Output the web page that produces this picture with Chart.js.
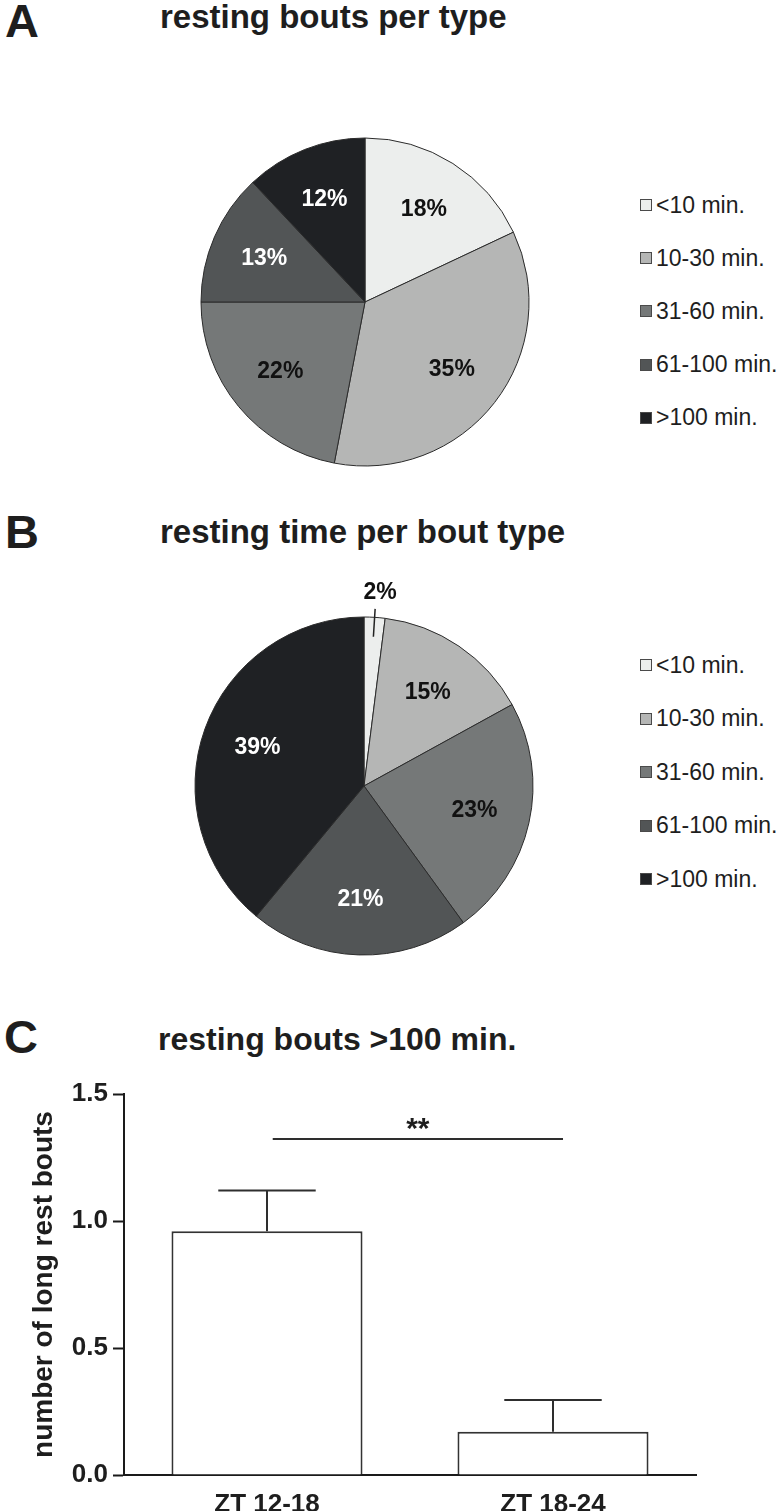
<!DOCTYPE html>
<html>
<head>
<meta charset="utf-8">
<script src="https://cdn.jsdelivr.net/npm/chart.js@4.4.1/dist/chart.umd.min.js"></script>
<style>
html,body{margin:0;padding:0;background:#fff;}
body{width:778px;height:1511px;position:relative;overflow:hidden;font-family:"Liberation Sans",Arial,Helvetica,sans-serif;color:#1e1e1e;}
.abs{position:absolute;white-space:nowrap;line-height:1;font-weight:bold;}
.letter{font-size:47px;}
.title{font-size:33px;}
canvas{position:absolute;}
.leg{position:absolute;left:640px;height:30px;display:flex;align-items:center;font-size:23px;white-space:nowrap;color:#1e1e1e;}
.leg .box{width:10px;height:10px;border:1px solid #4a4a4a;margin-right:4px;flex:none;}
</style>
</head>
<body>
<div class="abs letter" style="left:5px;top:-3px;">A</div>
<div class="abs title" style="left:160px;top:0px;">resting bouts per type</div>
<div class="abs letter" style="left:5px;top:508px;">B</div>
<div class="abs title" style="left:160px;top:515px;">resting time per bout type</div>
<div class="abs letter" style="left:4px;top:1013px;">C</div>
<div class="abs title" style="left:158px;top:1023px;font-size:32px;">resting bouts &gt;100 min.</div>

<canvas id="pieA" width="460" height="460" style="left:135px;top:72px;width:460px;height:460px;"></canvas>
<canvas id="pieB" width="460" height="460" style="left:134px;top:556px;width:460px;height:460px;"></canvas>
<canvas id="barC" width="778" height="451" style="left:0px;top:1060px;width:778px;height:451px;"></canvas>
<div id="legA"></div>
<div id="legB"></div>

<script>
// ---------- DATA ----------
const boutCategories = ['<10 min.', '10-30 min.', '31-60 min.', '61-100 min.', '>100 min.'];
const boutsPerTypePct = [18, 35, 22, 13, 12];       // panel A: resting bouts per type (%)
const timePerBoutTypePct = [2, 15, 23, 21, 39];     // panel B: resting time per bout type (%)
const periodLabels = ['ZT 12-18', 'ZT 18-24'];      // panel C categories
const longBoutMeans = [0.96, 0.17];                 // panel C bar heights
const longBoutSEM = [0.16, 0.125];                  // panel C error (upper)
const yTickValues = [0.0, 0.5, 1.0, 1.5];
const yAxisTitle = 'number of long rest bouts';
const sigLabel = '**';
const sigLevel = 1.323;
const sigSpan = [0.02, 1.035];

// ---------- STYLE ----------
const FONT = '"Liberation Sans", Arial, Helvetica, sans-serif';
const sliceColors = ['#eceeed', '#b5b6b5', '#757878', '#525556', '#1f2124'];
const sliceTextColors = ['#111', '#111', '#111', '#fff', '#fff'];

function buildLegend(id, firstCenter, spacing) {
  const el = document.getElementById(id);
  boutCategories.forEach((lab, i) => {
    const row = document.createElement('div');
    row.className = 'leg';
    row.style.top = (firstCenter + i * spacing - 15) + 'px';
    const box = document.createElement('span');
    box.className = 'box';
    box.style.background = sliceColors[i];
    const txt = document.createElement('span');
    txt.textContent = lab;
    row.appendChild(box); row.appendChild(txt);
    el.appendChild(row);
  });
}
buildLegend('legA', 205, 53.2);
buildLegend('legB', 665, 53.5);

const pieLabelPlugin = {
  id: 'pieLabels',
  afterDatasetsDraw(chart) {
    const ctx = chart.ctx;
    const meta = chart.getDatasetMeta(0);
    const data = chart.data.datasets[0].data;
    const total = data.reduce((a, b) => a + b, 0);
    ctx.save();
    ctx.font = 'bold 23px ' + FONT;
    ctx.textAlign = 'center';
    ctx.textBaseline = 'middle';
    meta.data.forEach((arc, i) => {
      const p = arc.getProps(['x', 'y', 'startAngle', 'endAngle', 'outerRadius'], true);
      const mid = (p.startAngle + p.endAngle) / 2;
      const pct = data[i] / total * 100;
      const text = Math.round(pct) + '%';
      const cx = Math.cos(mid), cy = Math.sin(mid);
      if (pct < 5) {
        const r1 = p.outerRadius * 0.885, r2 = p.outerRadius * 1.05, r3 = p.outerRadius * 1.145;
        ctx.strokeStyle = '#222';
        ctx.lineWidth = 1.5;
        ctx.beginPath();
        ctx.moveTo(p.x + cx * r1, p.y + cy * r1);
        ctx.lineTo(p.x + cx * r2, p.y + cy * r2);
        ctx.stroke();
        ctx.fillStyle = '#111';
        ctx.fillText(text, p.x + cx * r3 + 4, p.y + cy * r3);
      } else {
        const r = p.outerRadius * 0.67;
        ctx.fillStyle = sliceTextColors[i];
        ctx.fillText(text, p.x + cx * r, p.y + cy * r);
      }
    });
    ctx.restore();
  }
};

function makePie(id, values, radius) {
  return new Chart(document.getElementById(id), {
    type: 'pie',
    data: {
      labels: boutCategories,
      datasets: [{
        data: values,
        backgroundColor: sliceColors,
        borderColor: '#2b2b2b',
        borderWidth: 1,
        radius: radius
      }]
    },
    options: {
      responsive: false,
      animation: false,
      events: [],
      layout: { padding: 0 },
      plugins: { legend: { display: false }, tooltip: { enabled: false } }
    },
    plugins: [pieLabelPlugin]
  });
}
makePie('pieA', boutsPerTypePct, 164);
makePie('pieB', timePerBoutTypePct, 169);

const errorBarPlugin = {
  id: 'errorBars',
  afterDatasetsDraw(chart) {
    const ctx = chart.ctx;
    const ys = chart.scales.y, xs = chart.scales.x;
    const meta = chart.getDatasetMeta(0);
    ctx.save();
    ctx.strokeStyle = '#2e2e2e';
    ctx.lineWidth = 2;
    meta.data.forEach((bar, i) => {
      const top = ys.getPixelForValue(longBoutMeans[i] + longBoutSEM[i]);
      const half = bar.width * 0.255;
      ctx.beginPath();
      ctx.moveTo(bar.x, bar.y);
      ctx.lineTo(bar.x, top);
      ctx.moveTo(bar.x - half, top);
      ctx.lineTo(bar.x + half, top);
      ctx.stroke();
    });
    const sy = ys.getPixelForValue(sigLevel);
    const x1 = xs.getPixelForValue(sigSpan[0]);
    const x2 = xs.getPixelForValue(sigSpan[1]);
    ctx.beginPath();
    ctx.moveTo(x1, sy);
    ctx.lineTo(x2, sy);
    ctx.stroke();
    ctx.fillStyle = '#1e1e1e';
    ctx.font = 'bold 30px ' + FONT;
    ctx.textAlign = 'center';
    ctx.textBaseline = 'alphabetic';
    ctx.fillText(sigLabel, (x1 + x2) / 2, sy - 1);
    ctx.restore();
  }
};

new Chart(document.getElementById('barC'), {
  type: 'bar',
  data: {
    labels: periodLabels,
    datasets: [{
      data: longBoutMeans,
      backgroundColor: '#ffffff',
      borderColor: '#333333',
      borderWidth: 2,
      barPercentage: 0.668,
      categoryPercentage: 1.0
    }]
  },
  options: {
    responsive: false,
    animation: false,
    events: [],
    layout: { padding: { top: 34, right: 82, left: 0, bottom: 0 } },
    plugins: { legend: { display: false }, tooltip: { enabled: false } },
    scales: {
      x: {
        offset: true,
        grid: { display: false },
        border: { display: true, color: '#1a1a1a', width: 2 },
        ticks: { color: '#1e1e1e', padding: 6, font: { family: FONT, size: 26, weight: 'bold' } },
        afterFit: (s) => { s.height = 36; }
      },
      y: {
        min: 0,
        max: 1.5,
        afterBuildTicks: (s) => { s.ticks = yTickValues.map(v => ({ value: v })); },
        grid: { drawOnChartArea: false, drawTicks: true, tickLength: 11, tickColor: '#1a1a1a', tickWidth: 2 },
        border: { display: true, color: '#1a1a1a', width: 2 },
        ticks: {
          color: '#1e1e1e', padding: 5,
          font: { family: FONT, size: 26, weight: 'bold' },
          callback: (v) => Number(v).toFixed(1)
        },
        title: {
          display: true, text: yAxisTitle, color: '#1e1e1e',
          font: { family: FONT, size: 28, weight: 'bold' },
          padding: { top: 27, bottom: 0 }
        },
        afterFit: (s) => { s.width = 124; }
      }
    }
  },
  plugins: [errorBarPlugin]
});
</script>
</body>
</html>
